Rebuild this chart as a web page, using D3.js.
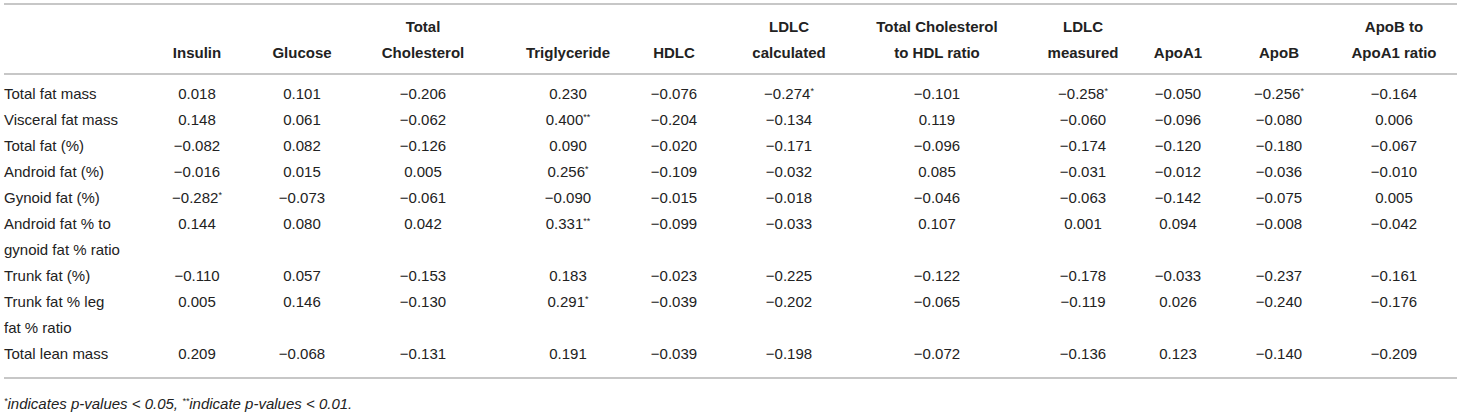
<!DOCTYPE html>
<html>
<head>
<meta charset="utf-8">
<title>Correlation table</title>
<script src="https://d3js.org/d3.v7.min.js"></script>
<style>
  body { margin: 0; background: #fff; }
  text { font-family: "Liberation Sans", Arial, Helvetica, sans-serif; fill: #222; }
</style>
</head>
<body>
<script>

// column headers (each entry is the lines of the header)
var columns = [
  ["Insulin"], ["Glucose"], ["Total", "Cholesterol"], ["Triglyceride"], ["HDLC"],
  ["LDLC", "calculated"], ["Total Cholesterol", "to HDL ratio"], ["LDLC", "measured"],
  ["ApoA1"], ["ApoB"], ["ApoB to", "ApoA1 ratio"]
];

// row labels (each entry is the lines of the label)
var rowLabels = [
  ["Total fat mass"], ["Visceral fat mass"], ["Total fat (%)"], ["Android fat (%)"],
  ["Gynoid fat (%)"], ["Android fat % to", "gynoid fat % ratio"], ["Trunk fat (%)"],
  ["Trunk fat % leg", "fat % ratio"], ["Total lean mass"]
];

var values = [
  [0.018, 0.101, -0.206, 0.230, -0.076, -0.274, -0.101, -0.258, -0.050, -0.256, -0.164],
  [0.148, 0.061, -0.062, 0.400, -0.204, -0.134, 0.119, -0.060, -0.096, -0.080, 0.006],
  [-0.082, 0.082, -0.126, 0.090, -0.020, -0.171, -0.096, -0.174, -0.120, -0.180, -0.067],
  [-0.016, 0.015, 0.005, 0.256, -0.109, -0.032, 0.085, -0.031, -0.012, -0.036, -0.010],
  [-0.282, -0.073, -0.061, -0.090, -0.015, -0.018, -0.046, -0.063, -0.142, -0.075, 0.005],
  [0.144, 0.080, 0.042, 0.331, -0.099, -0.033, 0.107, 0.001, 0.094, -0.008, -0.042],
  [-0.110, 0.057, -0.153, 0.183, -0.023, -0.225, -0.122, -0.178, -0.033, -0.237, -0.161],
  [0.005, 0.146, -0.130, 0.291, -0.039, -0.202, -0.065, -0.119, 0.026, -0.240, -0.176],
  [0.209, -0.068, -0.131, 0.191, -0.039, -0.198, -0.072, -0.136, 0.123, -0.140, -0.209]
];

// significance markers, same shape as values
var stars = [
  ["", "", "", "", "", "*", "", "*", "", "*", ""],
  ["", "", "", "**", "", "", "", "", "", "", ""],
  ["", "", "", "", "", "", "", "", "", "", ""],
  ["", "", "", "*", "", "", "", "", "", "", ""],
  ["*", "", "", "", "", "", "", "", "", "", ""],
  ["", "", "", "**", "", "", "", "", "", "", ""],
  ["", "", "", "", "", "", "", "", "", "", ""],
  ["", "", "", "*", "", "", "", "", "", "", ""],
  ["", "", "", "", "", "", "", "", "", "", ""]
];

var footnote = [
  { sup: "*", text: "indicates p-values < 0.05, " },
  { sup: "**", text: "indicate p-values < 0.01." }
];

var W = 1461, H = 417;
var left = 4, right = 1457;
var lineH = 26;

var svg = d3.select("body").append("svg")
  .attr("width", W)
  .attr("height", H);

// column centres
var colX = d3.scaleOrdinal()
  .domain(d3.range(columns.length))
  .range([197, 302, 423, 568, 674, 789, 937, 1083, 1178, 1279, 1394]);

// baseline of a text line by line index
var yLine = d3.scaleLinear().domain([0, 1]).range([99, 99 + lineH]);
var yHead = d3.scaleLinear().domain([0, 1]).range([32, 32 + lineH]);

var fmt = d3.format(".3f");
function num(v) { return fmt(v).replace("-", "\u2212"); }

// rules
var rules = [4, 74, 378];
svg.selectAll("line.rule")
  .data(rules)
  .enter().append("line")
  .attr("class", "rule")
  .attr("x1", left).attr("x2", right)
  .attr("y1", function(d) { return d; })
  .attr("y2", function(d) { return d; })
  .attr("stroke", "#b5b5b5")
  .attr("stroke-width", 1.5);

// header
var head = svg.selectAll("g.head")
  .data(columns)
  .enter().append("g")
  .attr("class", "head");

head.selectAll("text")
  .data(function(d, i) {
    var off = 2 - d.length;
    return d.map(function(t, j) { return { t: t, col: i, line: off + j }; });
  })
  .enter().append("text")
  .attr("x", function(d) { return colX(d.col); })
  .attr("y", function(d) { return yHead(d.line); })
  .attr("text-anchor", "middle")
  .attr("font-size", 15)
  .attr("font-weight", "bold")
  .text(function(d) { return d.t; });

// line index where each row starts
var starts = [];
rowLabels.reduce(function(acc, r) { starts.push(acc); return acc + r.length; }, 0);

var rows = svg.selectAll("g.row")
  .data(rowLabels)
  .enter().append("g")
  .attr("class", "row");

rows.selectAll("text.label")
  .data(function(d, i) {
    return d.map(function(t, j) { return { t: t, line: starts[i] + j }; });
  })
  .enter().append("text")
  .attr("class", "label")
  .attr("x", left)
  .attr("y", function(d) { return yLine(d.line); })
  .attr("font-size", 15)
  .text(function(d) { return d.t; });

rows.selectAll("text.cell")
  .data(function(d, i) {
    return values[i].map(function(v, c) {
      return { v: v, s: stars[i][c], col: c, line: starts[i] };
    });
  })
  .enter().append("text")
  .attr("class", "cell")
  .attr("x", function(d) { return colX(d.col); })
  .attr("y", function(d) { return yLine(d.line); })
  .attr("text-anchor", "middle")
  .attr("font-size", 15)
  .each(function(d) {
    var t = d3.select(this);
    t.append("tspan").text(num(d.v));
    if (d.s) {
      t.append("tspan")
        .attr("font-size", 9)
        .attr("dy", -5)
        .text(d.s);
    }
  });

// footnote
var fn = svg.append("text")
  .attr("x", left)
  .attr("y", 409)
  .attr("font-size", 15)
  .attr("font-style", "italic");

footnote.forEach(function(f) {
  fn.append("tspan").attr("font-size", 9).attr("dy", -5).text(f.sup);
  fn.append("tspan").attr("font-size", 15).attr("dy", 5).text(f.text);
});

</script>
</body>
</html>
